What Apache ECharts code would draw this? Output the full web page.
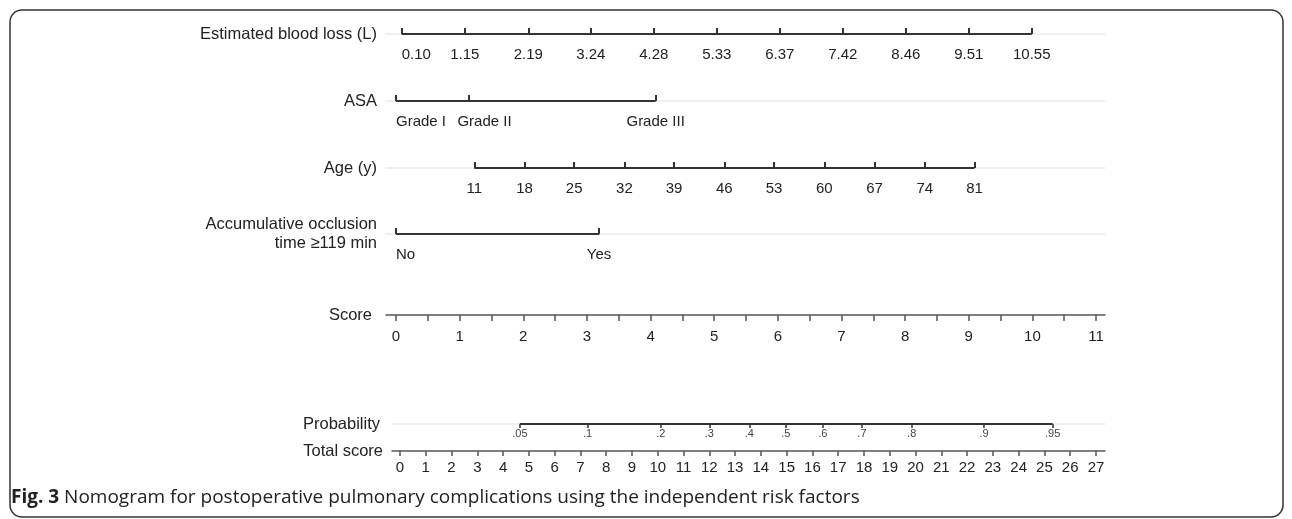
<!DOCTYPE html>
<html lang="en">

<head>
  <meta charset="UTF-8" />
  <title>Nomogram</title>
  <script src="https://cdn.jsdelivr.net/npm/echarts@6/dist/echarts.min.js"></script>
  <style>
    body,
    html {
      margin: 0;
      padding: 0;
      width: 100%;
      height: 100%;
      overflow: hidden;
      background: #fff;
    }

    #main {
      width: 1292px;
      height: 519px;
    }
  </style>
</head>

<body>
  <div id="main"></div>
</body>
<script>
  // values (points scale unless noted)
  var bloodLossLabels = ['0.10', '1.15', '2.19', '3.24', '4.28', '5.33', '6.37', '7.42', '8.46', '9.51', '10.55'];
  var bloodLossPoints = [0.09, 1.08, 2.08, 3.06, 4.05, 5.04, 6.03, 7.02, 8.01, 9.00, 9.99];

  var asaLabels = ['Grade I', 'Grade II', 'Grade III'];
  var asaPoints = [0, 1.14, 4.08];

  var ageLabels = ['11', '18', '25', '32', '39', '46', '53', '60', '67', '74', '81'];
  var agePoints = [1.23, 2.02, 2.80, 3.59, 4.37, 5.16, 5.94, 6.73, 7.52, 8.31, 9.09];

  var occlusionLabels = ['No', 'Yes'];
  var occlusionPoints = [0, 3.19];

  var scoreLabels = [0, 1, 2, 3, 4, 5, 6, 7, 8, 9, 10, 11];
  var scoreTicks = [0, 0.5, 1, 1.5, 2, 2.5, 3, 3.5, 4, 4.5, 5, 5.5, 6, 6.5, 7, 7.5, 8, 8.5, 9, 9.5, 10, 10.5, 11];

  // probability labels sit on the total score scale
  var probLabels = ['.05', '.1', '.2', '.3', '.4', '.5', '.6', '.7', '.8', '.9', '.95'];
  var probTotalScore = [4.65, 7.28, 10.12, 12.0, 13.55, 14.97, 16.40, 17.92, 19.85, 22.66, 25.32];

  var totalScoreLabels = [0, 1, 2, 3, 4, 5, 6, 7, 8, 9, 10, 11, 12, 13, 14, 15, 16, 17, 18, 19, 20, 21, 22, 23, 24, 25, 26, 27];

  var FONT = 'Liberation Sans';
  var DARK = '#333';
  var FAINT = '#e4edf1';

  function pickLabel(labels, vals) {
    return function (v, i) {
      var k = vals.indexOf(v);
      if (k < 0) k = i;
      return labels[k];
    };
  }

  var rows = [
    { name: 'Estimated blood loss (L)', labels: bloodLossLabels, vals: bloodLossPoints, y: 34, alignMin: 'left', lift: 4 },
    { name: 'ASA', labels: asaLabels, vals: asaPoints, y: 101, alignMin: 'left', lift: 8 },
    { name: 'Age (y)', labels: ageLabels, vals: agePoints, y: 168, lift: 4 },
    { name: 'Accumulative occlusion\ntime \u2265119 min', labels: occlusionLabels, vals: occlusionPoints, y: 234, alignMin: 'left', lift: 0 }
  ];

  var grids = [], xAxes = [], yAxes = [], series = [];

  function addGrid(top, left, right) {
    grids.push({ left: left, right: right, top: top - 10, height: 10, outerBoundsMode: 'none', containLabel: false });
    yAxes.push({ gridIndex: grids.length - 1, type: 'value', min: 0, max: 1, show: false });
    return grids.length - 1;
  }

  function nameStyle(lift) {
    return { fontSize: 16.5, color: '#222', fontFamily: FONT, lineHeight: 19, padding: [0, 0, lift || 0, 0] };
  }

  function tickLabel(extra) {
    var o = { show: true, fontSize: 15, color: '#222', fontFamily: FONT };
    for (var k in extra) o[k] = extra[k];
    return o;
  }

  rows.forEach(function (r) {
    var gi = addGrid(r.y, 386, 187);
    var isAsa = r.labels === asaLabels;
    xAxes.push({
      gridIndex: gi,
      type: 'value',
      min: -0.157,
      max: 11.141,
      position: 'bottom',
      name: r.name,
      nameLocation: 'start',
      nameGap: 9,
      nameMoveOverlap: false,
      nameTextStyle: nameStyle(r.lift),
      splitLine: { show: false },
      axisLine: { show: true, lineStyle: { color: FAINT, width: 1.5 } },
      axisTick: { show: true, inside: true, length: 6, customValues: r.vals, lineStyle: { color: DARK, width: 2 } },
      axisLabel: tickLabel({
        customValues: r.vals,
        margin: 13,
        alignMinLabel: r.alignMin,
        formatter: isAsa ? function (v, i) {
          var t = pickLabel(r.labels, r.vals)(v, i);
          return t === 'Grade II' ? '{s|' + t + '}' : t;
        } : pickLabel(r.labels, r.vals),
        rich: { s: { padding: [0, 0, 0, 32], fontSize: 15, color: '#222', fontFamily: FONT } }
      })
    });
    series.push({
      type: 'line',
      xAxisIndex: gi,
      yAxisIndex: gi,
      data: [[r.vals[0], 0], [r.vals[r.vals.length - 1], 0]],
      symbol: 'none',
      clip: false,
      silent: true,
      animation: false,
      lineStyle: { color: DARK, width: 2 },
      z: 5
    });
  });

  // Score axis (points)
  var gScore = addGrid(315, 386, 187);
  xAxes.push({
    gridIndex: gScore,
    type: 'value',
    min: -0.157,
    max: 11.141,
    position: 'bottom',
    name: 'Score',
    nameLocation: 'start',
    nameGap: 14,
    nameMoveOverlap: false,
    nameTextStyle: nameStyle(5),
    splitLine: { show: false },
    axisLine: { show: true, lineStyle: { color: '#555', width: 1.5 } },
    axisTick: { show: true, length: 6, customValues: scoreTicks, lineStyle: { color: '#555', width: 1.5 } },
    axisLabel: tickLabel({ customValues: scoreLabels, margin: 14 })
  });

  // Probability (total score scale)
  var gProb = addGrid(424, 392, 187);
  xAxes.push({
    gridIndex: gProb,
    type: 'value',
    min: -0.31,
    max: 27.35,
    position: 'bottom',
    name: 'Probability',
    nameLocation: 'start',
    nameGap: 12,
    nameMoveOverlap: false,
    nameTextStyle: nameStyle(2),
    splitLine: { show: false },
    axisLine: { show: true, lineStyle: { color: FAINT, width: 1.5 } },
    axisTick: { show: true, length: 4, customValues: probTotalScore, lineStyle: { color: DARK, width: 1.5 } },
    axisLabel: tickLabel({
      customValues: probTotalScore,
      margin: 4,
      fontSize: 11,
      color: '#444',
      formatter: pickLabel(probLabels, probTotalScore)
    })
  });
  series.push({
    type: 'line',
    xAxisIndex: gProb,
    yAxisIndex: gProb,
    data: [[probTotalScore[0], 0], [probTotalScore[probTotalScore.length - 1], 0]],
    symbol: 'none',
    clip: false,
    silent: true,
    animation: false,
    lineStyle: { color: DARK, width: 2 },
    z: 5
  });

  // Total score
  var gTotal = addGrid(451, 392, 187);
  xAxes.push({
    gridIndex: gTotal,
    type: 'value',
    min: -0.31,
    max: 27.35,
    position: 'bottom',
    name: 'Total score',
    nameLocation: 'start',
    nameGap: 9,
    nameMoveOverlap: false,
    nameTextStyle: nameStyle(3),
    splitLine: { show: false },
    axisLine: { show: true, lineStyle: { color: '#555', width: 1.5 } },
    axisTick: { show: true, length: 5, customValues: totalScoreLabels, lineStyle: { color: '#555', width: 1.5 } },
    axisLabel: tickLabel({ customValues: totalScoreLabels, margin: 9 })
  });

  var myChart = echarts.init(document.getElementById('main'), null, { renderer: 'canvas' });
  var option = {
    backgroundColor: '#fff',
    animation: false,
    textStyle: { fontFamily: FONT },
    grid: grids,
    xAxis: xAxes,
    yAxis: yAxes,
    series: series,
    graphic: [
      {
        type: 'rect',
        silent: true,
        shape: { x: 10, y: 10, width: 1273, height: 507, r: 12 },
        style: { fill: 'none', stroke: '#333', lineWidth: 1.5 }
      },
      {
        type: 'text',
        left: 11,
        top: 488,
        style: {
          text: '{b|Fig. 3} Nomogram for postoperative pulmonary complications using the independent risk factors',
          font: '19px "Open Sans", sans-serif',
          fill: '#222',
          rich: {
            b: { fontWeight: 'bold', fontSize: 19, fontFamily: 'Open Sans', fill: '#222' }
          }
        }
      }
    ]
  };
  myChart.setOption(option);
</script>

</html>
